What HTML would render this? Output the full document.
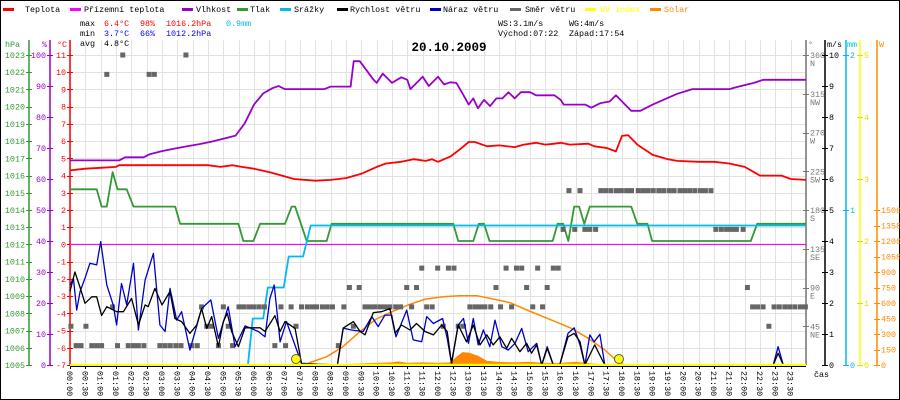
<!DOCTYPE html>
<html><head><meta charset="utf-8">
<style>
html,body{margin:0;padding:0;background:#fff;}
#wrap{position:relative;width:900px;height:400px;overflow:hidden;}
svg text{font-family:"Liberation Mono",monospace;font-size:8.4px;}
</style></head>
<body>
<div id="wrap">
<svg id="chart" width="900" height="400" viewBox="0 0 900 400" xmlns="http://www.w3.org/2000/svg">
<rect x="0.5" y="0.5" width="899" height="399" fill="#fff" stroke="#000"/>
<g id="grid"></g>
<g id="legend">
 <rect x="3" y="8" width="11" height="3" fill="#ff0000"/><text x="25" y="12">Teplota</text>
 <rect x="70" y="8" width="11" height="3" fill="#ff00ff"/><text x="84" y="12">Přízemní teplota</text>
 <rect x="182" y="8" width="11" height="3" fill="#9900cc"/><text x="196" y="12">Vlhkost</text>
 <rect x="237" y="8" width="11" height="3" fill="#339933"/><text x="250" y="12">Tlak</text>
 <rect x="280" y="8" width="11" height="3" fill="#00bbee"/><text x="294" y="12">Srážky</text>
 <rect x="337" y="8" width="11" height="3" fill="#000"/><text x="350" y="12">Rychlost větru</text>
 <rect x="430" y="8" width="11" height="3" fill="#0000cc"/><text x="443" y="12">Náraz větru</text>
 <rect x="510" y="8" width="11" height="3" fill="#666"/><text x="525" y="12">Směr větru</text>
 <rect x="585" y="8" width="11" height="3" fill="#ffff00"/><text x="600" y="12" fill="#ffff00">UV index</text>
 <rect x="650" y="8" width="11" height="3" fill="#ff8800"/><text x="664" y="12" fill="#ff8800">Solar</text>
</g>
<g id="stats">
 <text x="80" y="26">max</text>
 <text x="104" y="26" fill="#ff0000">6.4°C</text>
 <text x="140" y="26" fill="#ff0000">98%</text>
 <text x="166" y="26" fill="#ff0000">1016.2hPa</text>
 <text x="226" y="26" fill="#00bbee">0.9mm</text>
 <text x="80" y="36">min</text>
 <text x="104" y="36" fill="#0000ff">3.7°C</text>
 <text x="140" y="36" fill="#0000ff">66%</text>
 <text x="166" y="36" fill="#0000ff">1012.2hPa</text>
 <text x="80" y="46">avg</text>
 <text x="104" y="46">4.8°C</text>
 <text x="498" y="26">WS:3.1m/s</text>
 <text x="569" y="26">WG:4m/s</text>
 <text x="498" y="36">Východ:07:22</text>
 <text x="569" y="36">Západ:17:54</text>
 <text x="449" y="51" text-anchor="middle" style="font-size:12.5px;font-weight:bold">20.10.2009</text>
</g>
<g id="axes"></g>
<g id="series"></g>
</svg>
</div>
<script>
// ---------- data ----------
const tempTimes=[0,0.5,1.0,1.5,1.6,3,4.5,4.9,5.3,5.6,6.0,6.5,7.0,7.3,8.0,8.5,9.0,9.5,10.0,10.3,10.8,11.2,11.6,11.8,12.0,12.4,12.7,13.0,13.2,13.6,14.0,14.5,14.8,15.2,15.5,15.8,16.0,16.3,16.9,17.1,17.5,17.8,18.0,18.2,18.5,19.0,19.5,19.8,20.5,21.0,21.5,22.0,22.4,22.5,23.2,23.5,24];
const tempValues=[4.3,4.4,4.45,4.5,4.6,4.6,4.6,4.5,4.6,4.5,4.4,4.2,3.95,3.8,3.7,3.75,3.85,4.1,4.5,4.7,4.8,4.95,4.85,4.95,4.8,5.1,5.5,5.95,5.95,5.7,5.75,5.65,5.8,5.9,5.8,5.85,5.9,5.8,5.85,5.7,5.6,5.4,6.3,6.35,5.8,5.2,4.95,4.85,4.8,4.8,4.7,4.5,4.1,4.0,4.0,3.8,3.75];
const humTimes=[0,1.6,1.8,2.4,2.6,3.0,3.4,3.8,4.2,4.6,5.0,5.4,5.7,6.0,6.3,6.6,6.8,7.0,8.3,8.5,9.15,9.25,9.45,9.9,10.0,10.2,10.5,10.8,11.0,11.1,11.5,11.7,12.0,12.2,12.4,12.6,12.8,13.0,13.15,13.3,13.5,13.7,13.9,14.1,14.3,14.5,14.7,15.0,15.2,15.8,16.0,16.1,16.8,17.0,17.3,17.6,17.8,18.1,18.3,18.6,19.0,19.5,19.8,20.3,21.5,21.8,22.3,22.6,24];
const humValues=[66,66,67,67,68,69,69.8,70.5,71.2,72,73,74,78,84,87.6,89.3,90,89,89,89.8,89.8,98,98,92,91,94,91,92.8,92,89,93,90,93,90.5,91.2,91,87.6,84,86,82.8,85.5,83.5,86,86,88,86,88,88,87,87,85.5,84,84,83,84.5,85,87,84,82,82,84,86.2,87.5,89,89,89.8,91,92,92];
const pressTimes=[0,0.87,1.03,1.2,1.39,1.55,1.85,2.07,3.43,3.59,5.49,5.65,5.98,6.2,7.01,7.23,7.34,7.72,8.37,8.53,12.5,12.66,13.15,13.33,13.5,13.68,15.74,15.9,16.08,16.25,16.44,16.6,16.77,16.95,18.3,18.5,18.83,18.98,22.2,22.41,24];
const pressValues=[1015.2,1015.2,1014.2,1014.2,1016.2,1015.2,1015.2,1014.2,1014.2,1013.2,1013.2,1012.2,1012.2,1013.2,1013.2,1014.2,1014.2,1012.2,1012.2,1013.2,1013.2,1012.2,1012.2,1013.2,1013.2,1012.2,1012.2,1013.2,1013.2,1012.2,1014.2,1014.2,1013.2,1014.2,1014.2,1013.2,1013.2,1012.2,1012.2,1013.2,1013.2];
const rainTimes=[5.8,5.96,6.3,6.45,6.97,7.13,7.6,7.85,24];
const rainValues=[0,0.3,0.3,0.5,0.5,0.7,0.7,0.9,0.9];
const windTimes=[0,0.16,0.33,0.49,0.71,0.87,1.03,1.2,1.52,1.74,2.01,2.23,2.45,2.55,2.77,3.0,3.26,3.42,3.64,3.91,4.13,4.29,4.46,4.62,4.84,5.0,5.13,5.27,5.49,5.71,6.2,6.36,6.68,6.85,7.01,7.34,7.55,8.72,8.91,9.24,9.46,9.62,9.89,10.16,10.43,10.6,10.81,11.09,11.3,11.58,11.85,12.12,12.3,12.44,12.66,12.93,13.15,13.37,13.59,13.8,14.02,14.24,14.4,14.67,14.89,15.05,15.22,15.38,15.56,15.76,15.97,16.24,16.44,16.63,16.79,17.11,17.44,22.93,23.09,23.26];
const windValues=[2.37,3.0,2.5,1.99,2.2,2.2,1.6,1.88,1.72,1.72,2.15,1.29,1.94,1.88,2.47,1.94,2.37,1.5,1.4,1.02,1.29,1.82,1.18,1.56,0.59,1.4,1.67,1.08,0.59,1.2,1.2,1.08,1.59,1.08,1.4,1.18,0.05,0,1.19,1.4,1.08,0.97,1.69,1.72,1.82,1.02,1.29,1.13,1.34,1.08,0.97,1.29,1.08,0.05,1.29,0.75,1.29,0.65,0.97,0.65,0.91,0.54,0.86,0.43,0.70,0.38,0.65,0,0.54,0,0,0.91,1.02,0.75,0,0.65,0,0,0.38,0];
const gustTimes=[0,0.11,0.22,0.33,0.49,0.65,0.87,1.0,1.2,1.41,1.52,1.68,1.85,2.07,2.23,2.45,2.72,2.93,3.1,3.26,3.48,3.64,3.91,4.29,4.59,4.84,5.16,5.38,5.71,6.14,6.36,6.52,6.66,6.85,7.06,7.55,8.72,8.91,9.18,9.56,9.84,10.05,10.27,10.49,10.63,10.98,11.19,11.47,11.63,11.85,12.15,12.3,12.44,12.66,12.83,12.99,13.15,13.31,13.48,13.69,13.86,14.08,14.29,14.51,14.73,14.94,15.22,15.38,15.56,15.76,15.97,16.24,16.44,16.63,16.79,16.95,17.09,17.28,17.44,22.93,23.09,23.26];
const gustValues=[2.58,2.8,1.77,2.37,2.8,3.28,3.23,3.98,2.58,1.94,1.29,2.63,1.94,3.28,1.13,2.74,3.6,1.29,1.08,2.47,1.45,1.72,0.48,1.82,2.1,0.86,1.88,0.59,1.26,1.08,0.91,2.15,2.58,0.75,1.4,0.05,0,1.19,1.13,1.08,1.56,1.24,1.61,1.61,0.91,1.77,0.81,0.75,1.56,1.34,1.5,0.86,0.05,1.29,1.5,0.70,1.5,0.65,1.13,0.59,1.45,0.59,0.48,0.70,1.18,0.43,0.70,0,0.59,0,0,1.02,1.2,0.65,0,0.97,0.75,0.99,0,0,0.59,0];
const dirTimes=[0.2,0.36,0.71,0.87,1.03,1.55,1.9,2.07,2.23,2.41,2.93,3.1,3.27,3.45,3.62,3.97,4.15,4.84,5.3,6.68,7.03,8.75,
0.03,0.52,4.46,4.62,5.16,7.37,9.24,12.17,12.66,12.83,22.79,
1.39,4.29,5.0,5.51,5.67,5.84,6.0,6.17,6.34,6.88,7.21,7.55,7.74,7.9,8.04,8.23,8.39,8.56,8.93,9.62,9.78,9.94,10.11,10.27,10.43,10.62,10.78,11.14,11.63,11.81,13.04,13.21,13.37,13.53,13.72,14.04,14.4,15.09,15.41,22.26,22.42,22.6,22.96,23.13,23.31,23.47,23.64,23.82,23.98,
9.11,9.43,10.98,11.3,13.89,14.89,15.56,22.09,
11.47,11.99,12.34,12.52,14.22,14.56,14.73,15.25,15.76,15.92,
16.08,16.46,16.79,16.95,17.14,21.06,21.24,21.41,21.57,21.73,21.95,
16.27,16.63,17.31,17.47,17.64,17.82,17.98,18.15,18.31,18.53,18.69,18.85,19.02,19.2,19.36,19.54,19.7,19.89,20.05,20.21,20.38,20.56,20.72,20.9,
1.2,2.58,2.75,1.72,3.78];
const dirValues=[22.5,22.5,22.5,22.5,22.5,22.5,22.5,22.5,22.5,22.5,22.5,22.5,22.5,22.5,22.5,22.5,22.5,22.5,22.5,22.5,22.5,22.5,
45,45,45,45,45,45,45,45,45,45,45,
67.5,67.5,67.5,67.5,67.5,67.5,67.5,67.5,67.5,67.5,67.5,67.5,67.5,67.5,67.5,67.5,67.5,67.5,67.5,67.5,67.5,67.5,67.5,67.5,67.5,67.5,67.5,67.5,67.5,67.5,67.5,67.5,67.5,67.5,67.5,67.5,67.5,67.5,67.5,67.5,67.5,67.5,67.5,67.5,67.5,67.5,67.5,67.5,67.5,
90,90,90,90,90,90,90,90,
112.5,112.5,112.5,112.5,112.5,112.5,112.5,112.5,112.5,112.5,
157.5,157.5,157.5,157.5,157.5,157.5,157.5,157.5,157.5,157.5,157.5,
202.5,202.5,202.5,202.5,202.5,202.5,202.5,202.5,202.5,202.5,202.5,202.5,202.5,202.5,202.5,202.5,202.5,202.5,202.5,202.5,202.5,202.5,202.5,202.5,
337.5,337.5,337.5,360,360];
const solarMaxTimes=[7.6,8.37,8.9,9.45,9.99,10.5,11.08,11.6,12.17,12.7,13.26,13.8,14.35,14.9,15.43,15.97,16.35,16.9,17.44,17.8,18.1];
const solarMaxValues=[0,80,177,322,445,516,587,639,661,671,671,639,603,532,467,403,355,258,145,48,0];
const solarTimes=[8.0,8.5,9.0,9.5,10.0,10.5,10.7,11.0,11.5,12.0,12.4,12.6,12.8,13.0,13.3,13.6,14.0,14.5,15.0,15.5,16.0,16.5,17.0,17.5,18.0];
const solarValues=[0,5,10,15,20,25,35,20,25,20,25,80,125,120,90,40,30,25,30,20,20,30,15,5,0];
const sunEvents=[7.37,17.9];
const hourLabels=[];for(let i=0;i<48;i++){hourLabels.push(String(Math.floor(i/2)).padStart(2,'0')+':'+(i%2?'30':'00'));}
const tempTicks=[11,10,9,8,7,6,5,4,3,2,1,0,-1,-2,-3,-4,-5,-6,-7];
const pressTicks=[1023,1022,1021,1020,1019,1018,1017,1016,1015,1014,1013,1012,1011,1010,1009,1008,1007,1006,1005];
const humTicks=[100,90,80,70,60,50,40,30,20,10,0];
const dirTicks=[360,315,270,225,180,135,90,45];
const dirNames=['N','NW','W','SW','S','SE','E','NE'];
const windTicks=[0,1,2,3,4,5,6,7,8,9,10];
const rainTicks=[0,1,2];
const uvTicks=[0,1,2,3,4,5];
const solarTicks=[0,150,300,450,600,750,900,1050,1200,1350,1500];

// ---------- scales ----------
const X0=70,X1=806,YT=55,YB=365;
const sx=t=>X0+t*(X1-X0)/24;
const yT=v=>YB-(v+7)*(YB-YT)/18;
const yP=v=>YB-(v-1005)*(YB-YT)/18;
const yH=v=>YB-v*(YB-YT)/100;
const yD=v=>YB-v*(YB-YT)/360;
const yW=v=>YB-v*(YB-YT)/10;
const yR=v=>YB-v*(YB-YT)/2;
const yU=v=>YB-v*(YB-YT)/5;
const yS=v=>YB-v*155/1500;
const NS='http://www.w3.org/2000/svg';
function mk(tag,attrs,parent){const e=document.createElementNS(NS,tag);for(const k in attrs)e.setAttribute(k,attrs[k]);parent.appendChild(e);return e;}
const grid=document.getElementById('grid'),axes=document.getElementById('axes'),series=document.getElementById('series');

for(let i=0;i<=48;i++){const x=Math.round(sx(i/2))+0.5;
 const l=mk('line',{x1:x,x2:x,y1:40,y2:YB,stroke:'#e2e2e2','stroke-width':1},grid);
 
 }
tempTicks.forEach(v=>{const y=Math.round(yT(v))+0.5;
 const l=mk('line',{x1:X0,x2:X1,y1:y,y2:y,stroke:'#e2e2e2','stroke-width':1},grid);
 
 });

function axisLine(x,color,name){const l=mk('line',{x1:x,x2:x,y1:40,y2:YB,stroke:color,'stroke-width':1.5},axes);
 
 }
function tickLab(x,y,txt,color,anchor,name){const t=mk('text',{x:x,y:y+3,fill:color,'text-anchor':anchor},axes);t.textContent=txt;
 
 
 const k=mk('line',{x1:(anchor==='end'?x+1:x-7),x2:(anchor==='end'?x+7:x-1),y1:Math.round(y)+0.5,y2:Math.round(y)+0.5,stroke:color,'stroke-width':1},axes);
 
 }

axisLine(29,'#339933','pressure-axis');axisLine(50,'#9900cc','humidity-axis');axisLine(70,'#ff0000','temperature-axis');
pressTicks.forEach(v=>tickLab(25,yP(v),String(v),'#339933','end','pressure-tick-label'));
humTicks.forEach(v=>tickLab(46,yH(v),String(v),'#9900cc','end','humidity-tick-label'));
tempTicks.forEach(v=>tickLab(66,yT(v),String(v),'#ff0000','end','temperature-tick-label'));
[['hPa',5,'#339933','pressure-axis-title'],['%',42,'#9900cc','humidity-axis-title'],['°C',57,'#ff0000','temperature-axis-title']].forEach(a=>{
 const t=mk('text',{x:a[1],y:47,fill:a[2]},axes);t.textContent=a[0];
 
 });

axisLine(806,'#777','direction-axis');axisLine(825,'#000','wind-axis');axisLine(846,'#00bbee','rain-axis');axisLine(860,'#ffff00','uv-axis');axisLine(877,'#ff8800','solar-axis');
dirTicks.forEach((v,i)=>{tickLab(810,yD(v),String(v),'#777','start','direction-tick-label');
 const t=mk('text',{x:810,y:yD(v)+11,fill:'#777'},axes);t.textContent=dirNames[i];
 
 });
windTicks.forEach(v=>tickLab(829,yW(v),String(v),'#000','start','wind-tick-label'));
rainTicks.forEach(v=>tickLab(850,yR(v),String(v),'#00bbee','start','rain-tick-label'));
uvTicks.forEach(v=>tickLab(864,yU(v),String(v),'#dddd00','start','uv-tick-label'));
solarTicks.forEach(v=>tickLab(881,yS(v),String(v),'#ff8800','start','solar-tick-label'));
[['°',808,'#777','direction-axis-title'],['m/s',827,'#000','wind-axis-title'],['mm',847,'#00bbee','rain-axis-title'],['W',879,'#ff8800','solar-axis-title']].forEach(a=>{
 const t=mk('text',{x:a[1],y:47,fill:a[2]},axes);t.textContent=a[0];
 
 });

hourLabels.forEach((s,i)=>{const x=sx(i/2);
 const k=mk('line',{x1:Math.round(x)+0.5,x2:Math.round(x)+0.5,y1:YB,y2:YB+4,stroke:'#000'},axes);
 
 
 const t=mk('text',{x:0,y:0,transform:'translate('+(x-3)+',371) rotate(90)'},axes);t.textContent=s;
 
 });
const cas=mk('text',{x:814,y:377},axes);cas.textContent='čas';



function path(times,vals,fy){return times.map((t,i)=>(i?'L':'M')+sx(t).toFixed(1)+','+fy(vals[i]).toFixed(1)).join(' ');}
function line(times,vals,fy,color,w,name){const p=mk('path',{d:path(times,vals,fy),fill:'none',stroke:color,'stroke-width':w,'stroke-linejoin':'round'},series);
 
 return p;}

const sa=mk('path',{d:path(solarTimes,solarValues,yS)+' L'+sx(solarTimes[solarTimes.length-1])+','+YB+' L'+sx(solarTimes[0])+','+YB+' Z',fill:'#ff8800',stroke:'none'},series);


line(solarMaxTimes,solarMaxValues,yS,'#ff8800',1.5,'solar-max-line');
const mg=mk('line',{x1:X0,x2:X1,y1:yT(0),y2:yT(0),stroke:'#ff00ff','stroke-width':1.2},series);


line(pressTimes,pressValues,yP,'#339933',1.8,'pressure-line');
line(rainTimes,rainValues,yR,'#00bbee',1.8,'rain-line');
line(humTimes,humValues,yH,'#9900cc',1.8,'humidity-line');
line(tempTimes,tempValues,yT,'#ff0000',1.8,'temperature-line');
dirTimes.forEach((t,i)=>{const r=mk('rect',{x:sx(t)-2.5,y:yD(dirValues[i])-2.5,width:5,height:5,fill:'#666'},series);
 
 });
line(gustTimes,gustValues,yW,'#0000cc',1.3,'wind-gust-line');
line(windTimes,windValues,yW,'#000',1.3,'wind-speed-line');
const uv=mk('line',{x1:X0,x2:X1,y1:YB,y2:YB,stroke:'#ffff00','stroke-width':2.5},series);


const xb=mk('line',{x1:X0,x2:X1,y1:YB+1.5,y2:YB+1.5,stroke:'#000','stroke-width':1},series);


sunEvents.forEach(t=>{const c=mk('circle',{cx:sx(t),cy:YB-6,r:4.5,fill:'#ffff00',stroke:'#555','stroke-width':1},series);
 
 });
</script>
</body></html>
